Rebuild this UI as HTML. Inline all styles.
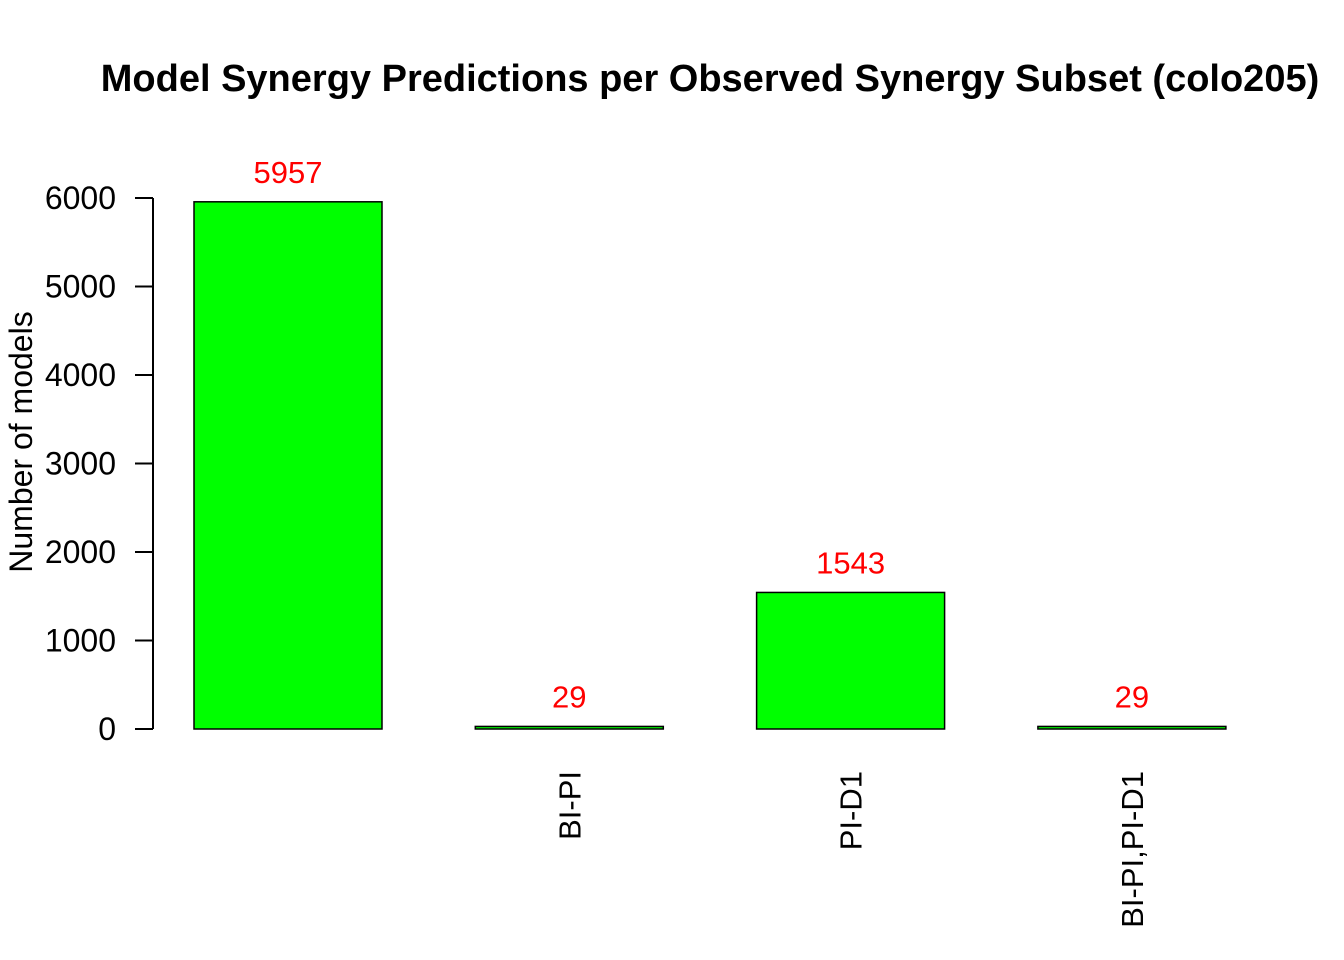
<!DOCTYPE html>
<html><head><meta charset="utf-8"><style>
html,body{margin:0;padding:0;background:#fff;}
svg{display:block;font-family:"Liberation Sans",Arial,sans-serif;}
</style></head><body>
<svg id="chart" width="1344" height="960" viewBox="0 0 1344 960" xmlns="http://www.w3.org/2000/svg">
<rect x="0" y="0" width="1344" height="960" fill="#fff"/>
<text x="710" y="91" text-anchor="middle" font-size="38" font-weight="bold">Model Synergy Predictions per Observed Synergy Subset (colo205)</text>
<text transform="translate(32,442) rotate(-90)" text-anchor="middle" font-size="32">Number of models</text>
<g id="yaxis"></g>
<g id="bars"></g>
</svg>
<script>
const categories = ["", "BI-PI", "PI-D1", "BI-PI,PI-D1"];
const values = [5957, 29, 1543, 29];
const yTicks = [0, 1000, 2000, 3000, 4000, 5000, 6000];
const NS = "http://www.w3.org/2000/svg";
function y(v){ return 729 - v * (729 - 198) / 6000; }
function xLeft(i){ return 194 + i * 281.3; }
const barW = 188;
function mk(tag, attrs, parent){ const e = document.createElementNS(NS, tag); for (const k in attrs) e.setAttribute(k, attrs[k]); parent.appendChild(e); return e; }
const ya = document.getElementById('yaxis');
const axl = mk('line', {x1:153, x2:153, y1:y(0), y2:y(6000), stroke:'#000', 'stroke-width':2}, ya);


yTicks.forEach(t => {
  const l = mk('line', {x1:135, x2:153, y1:y(t), y2:y(t), stroke:'#000', 'stroke-width':2}, ya);
  
  
  const tx = mk('text', {x:116, y:y(t)+11, 'text-anchor':'end', 'font-size':32}, ya);
  tx.textContent = t;
  
  
});
const bg = document.getElementById('bars');
values.forEach((v, i) => {
  const x0 = xLeft(i);
  const r = mk('rect', {x:x0, y:y(v), width:barW, height:y(0)-y(v), fill:'#00ff00', stroke:'#000', 'stroke-width':1.5}, bg);
  
  
  const vl = mk('text', {x:x0+barW/2, y:y(v)-19, 'text-anchor':'middle', 'font-size':31, fill:'#ff0000'}, bg);
  vl.textContent = v;
  
  
  if (categories[i]) {
    const cx = x0 + barW/2 + 11;
    const cl = mk('text', {transform:'translate(' + cx + ',771) rotate(-90)', 'text-anchor':'end', 'font-size':31}, bg);
    cl.textContent = categories[i];
    
    
  }
});
</script>
</body></html>
